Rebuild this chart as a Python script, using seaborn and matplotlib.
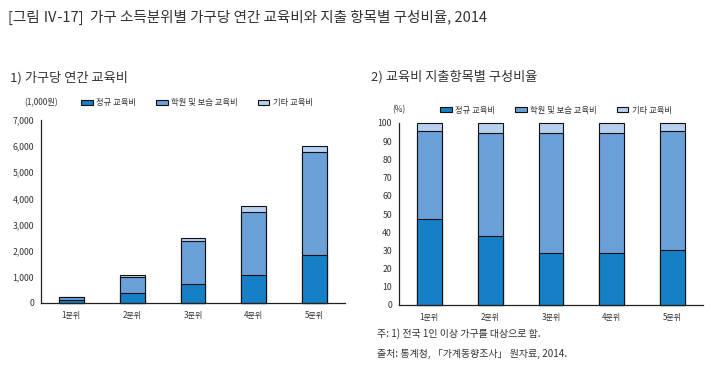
import matplotlib
matplotlib.use("Agg")
import matplotlib.pyplot as plt
import seaborn as sns
import pandas as pd
from matplotlib.patches import Patch
from matplotlib.ticker import FuncFormatter, FixedLocator

sns.set_style("white")
plt.rcParams['font.family'] = ['Noto Sans CJK KR', 'DejaVu Sans']

# ---- data ----
quintiles = ['1분위', '2분위', '3분위', '4분위', '5분위']
series_names = ['정규 교육비', '학원 및 보습 교육비', '기타 교육비']
regular_amt = [108, 380, 720, 1065, 1820]
academy_amt = [112, 610, 1640, 2435, 3940]
other_amt = [10, 100, 110, 225, 250]
regular_pct = [47.3, 37.7, 28.6, 28.4, 30.2]
academy_pct = [48.3, 57.0, 66.1, 66.3, 65.4]
other_pct = [4.4, 5.3, 5.3, 5.3, 4.4]
amt_ticks = [0, 1000, 2000, 3000, 4000, 5000, 6000, 7000]
pct_ticks = [0, 10, 20, 30, 40, 50, 60, 70, 80, 90, 100]

colors = ['#1580c6', '#6a9fd8', '#b8d0ef']
txt = '#333333'

W, H = 720, 381
fig = plt.figure(figsize=(W / 100, H / 100), dpi=100)


def px_axes(x0, x1, ytop, ybot):
    return fig.add_axes([x0 / W, (H - ybot) / H, (x1 - x0) / W, (ybot - ytop) / H])


def stacked(ax, a, b, c):
    df = pd.DataFrame({'q': quintiles, 'a': a, 'b': b, 'c': c})
    df['ab'] = df['a'] + df['b']
    df['abc'] = df['ab'] + df['c']
    for col, colr in zip(['abc', 'ab', 'a'], colors[::-1]):
        sns.barplot(data=df, x='q', y=col, color=colr, width=0.41,
                    edgecolor='#111111', linewidth=0.8, errorbar=None,
                    saturation=1, ax=ax)
    for p in ax.patches:
        p.set_clip_on(False)
    ax.set_xlabel('')
    ax.set_ylabel('')
    ax.set_xlim(-0.5, 4.5)
    sns.despine(ax=ax)
    for s in ['left', 'bottom']:
        ax.spines[s].set_color('#222222')
        ax.spines[s].set_linewidth(0.9)
    ax.xaxis.set_minor_locator(FixedLocator([0.5, 1.5, 2.5, 3.5, 4.5]))
    ax.tick_params(axis='x', which='major', length=0, labelsize=5.8,
                   labelcolor=txt, pad=6)
    ax.tick_params(axis='x', which='minor', length=3, direction='in',
                   width=0.8, color='#222222')
    ax.tick_params(axis='y', which='major', length=3, direction='in',
                   width=0.8, color='#222222', labelsize=6.3,
                   labelcolor=txt, pad=5)
    ax.grid(False)


def legend(ax, x, y):
    handles = [Patch(facecolor=c, edgecolor='#111111', linewidth=0.8)
               for c in colors]
    ax.legend(handles, series_names, ncol=3, frameon=False, fontsize=6,
              loc='center left', bbox_to_anchor=(x / W, (H - y) / H),
              bbox_transform=fig.transFigure, handlelength=1.4,
              handleheight=0.55, handletextpad=0.4, columnspacing=2.4,
              borderpad=0, borderaxespad=0, labelcolor=txt)


# left chart
ax1 = px_axes(41, 345, 120, 303)
stacked(ax1, regular_amt, academy_amt, other_amt)
ax1.set_ylim(0, 7000)
ax1.set_yticks(amt_ticks)
ax1.yaxis.set_major_formatter(FuncFormatter(lambda v, p: f'{int(v):,}'))
legend(ax1, 81, 103)
fig.text(24 / W, (H - 103) / H, '(1,000원)', fontsize=6, color=txt,
         va='center', ha='left')

# right chart
ax2 = px_axes(399, 703, 123, 305)
stacked(ax2, regular_pct, academy_pct, other_pct)
ax2.set_ylim(0, 100)
ax2.set_yticks(pct_ticks)
legend(ax2, 440, 110)
fig.text(392 / W, (H - 110) / H, '(%)', fontsize=6, color=txt,
         va='center', ha='left')

# titles
fig.text(8 / W, (H - 17) / H,
         '[그림 Ⅳ-17]  가구 소득분위별 가구당 연간 교육비와 지출 항목별 구성비율, 2014',
         fontsize=10.5, color=txt, va='center', ha='left')
fig.text(10 / W, (H - 78) / H, '1) 가구당 연간 교육비', fontsize=9.5,
         color=txt, va='center', ha='left')
fig.text(371 / W, (H - 77) / H, '2) 교육비 지출항목별 구성비율', fontsize=9.5,
         color=txt, va='center', ha='left')

# notes
fig.text(377 / W, (H - 334) / H, '주: 1) 전국 1인 이상 가구를 대상으로 함.',
         fontsize=7.2, color=txt, va='center', ha='left')
fig.text(377 / W, (H - 354) / H, '출처: 통계청, 「가계동향조사」 원자료, 2014.',
         fontsize=7.2, color=txt, va='center', ha='left')

fig.savefig('out.png', dpi=100)
